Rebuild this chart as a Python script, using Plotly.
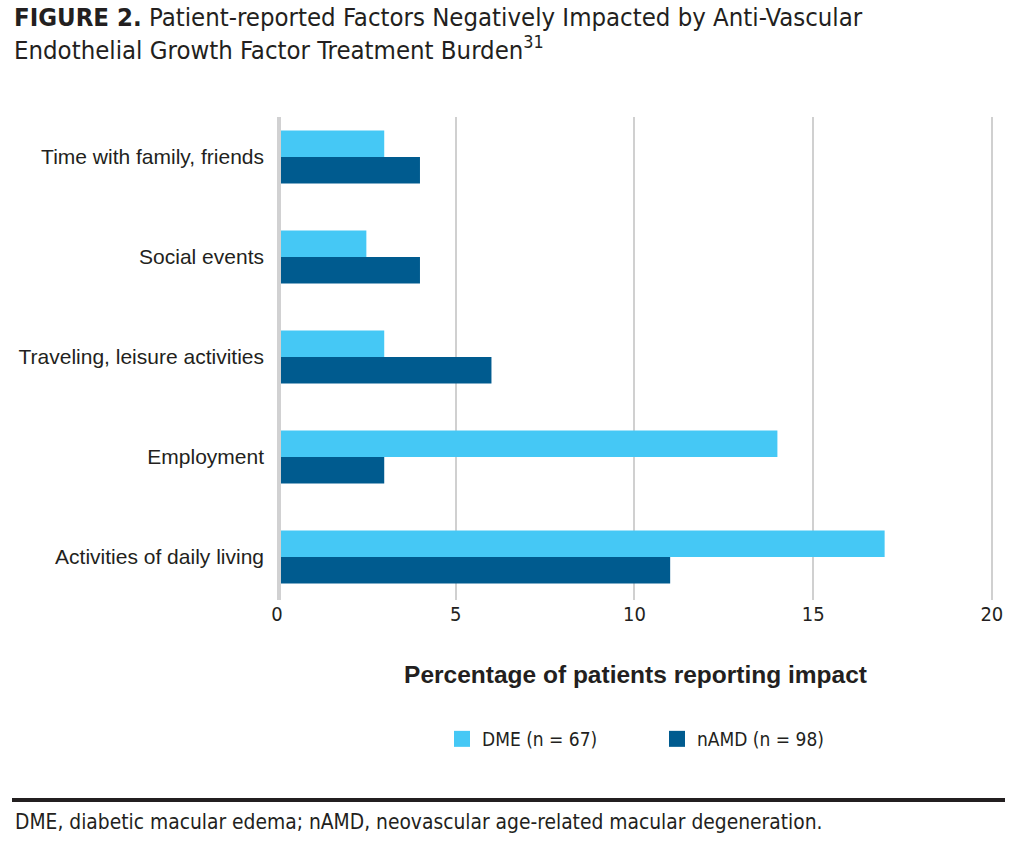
import plotly.graph_objects as go

categories = ["Time with family, friends", "Social events", "Traveling, leisure activities",
              "Employment", "Activities of daily living"]
dme_values = [3, 2.5, 3, 14, 17]
namd_values = [4, 4, 6, 3, 11]
series_names = ["DME (n = 67)", "nAMD (n = 98)"]
series_colors = ["#45C8F5", "#005B8F"]
x_ticks = [0, 5, 10, 15, 20]

W, H = 1017, 841
L, R, T, B = 277, 994, 117, 600

def px(x):
    return (x - L) / (R - L)

def py(y):
    return (B - y) / (B - T)

NARROW = "Liberation Sans Narrow, DejaVu Sans Condensed, Roboto Condensed, Arial Narrow, sans-serif"
SANS = "Liberation Sans, Arial, sans-serif"
TXT = "#231F20"

fig = go.Figure()
for vals, name, col in zip([dme_values, namd_values], series_names, series_colors):
    fig.add_trace(go.Bar(y=categories, x=vals, name=name, orientation="h", legendgroup=name,
                         showlegend=False, marker=dict(color=col, line=dict(width=0))))
# legend entries with larger square swatches
for name, col in zip(series_names, series_colors):
    fig.add_trace(go.Scatter(x=[None], y=[None], mode="markers", name=name, legendgroup=name,
                             marker=dict(symbol="square", size=16, color=col)))

fig.update_layout(
    width=W, height=H,
    margin=dict(l=L, r=W - R, t=T, b=H - B, pad=0),
    paper_bgcolor="white", plot_bgcolor="white",
    barmode="group", bargap=0.47, bargroupgap=0,
    showlegend=True,
    legend=dict(orientation="h", x=px(442), y=py(739), xanchor="left", yanchor="middle",
                font=dict(family=NARROW, size=19, color=TXT), entrywidth=170,
                traceorder="normal", bgcolor="rgba(0,0,0,0)"),
    xaxis=dict(range=[0, 20.06], tickvals=x_ticks, showgrid=True, gridcolor="#D0D0D0",
               gridwidth=2, zeroline=False, showline=False, ticks="",
               tickfont=dict(family=NARROW, size=20, color=TXT), ticklabelstandoff=0,
               title=dict(text="<b>Percentage of patients reporting impact</b>",
                          font=dict(family=SANS, size=24.5, color=TXT), standoff=40)),
    yaxis=dict(type="category", categoryorder="array", categoryarray=categories,
               range=[4.43, -0.4], showgrid=False, zeroline=False, showline=False, ticks="",
               tickfont=dict(family=SANS, size=21, color=TXT), ticklabelstandoff=12),
    font=dict(family=SANS, color=TXT),
)

fig.add_shape(type="line", xref="x", yref="paper", x0=0, x1=0, y0=0, y1=1,
              line=dict(color="#D1D1D2", width=8), layer="above")
fig.add_shape(type="line", xref="paper", yref="paper", x0=px(12), x1=px(1005),
              y0=py(800), y1=py(800), line=dict(color=TXT, width=4))

fig.add_annotation(xref="paper", yref="paper", x=px(12), y=py(0), xanchor="left", yanchor="top",
                   text="<b>FIGURE 2.</b> Patient-reported Factors Negatively Impacted by Anti-Vascular<br>"
                        "Endothelial Growth Factor Treatment Burden<sup>31</sup>",
                   showarrow=False, align="left",
                   font=dict(family=NARROW, size=25.5, color=TXT))
fig.add_annotation(xref="paper", yref="paper", x=px(13), y=py(822), xanchor="left", yanchor="middle",
                   text="DME, diabetic macular edema; nAMD, neovascular age-related macular degeneration.",
                   showarrow=False, align="left",
                   font=dict(family=NARROW, size=20.8, color=TXT))

fig.write_html("out.html", config={"displayModeBar": False},
               post_script="document.body.style.margin='0';")
